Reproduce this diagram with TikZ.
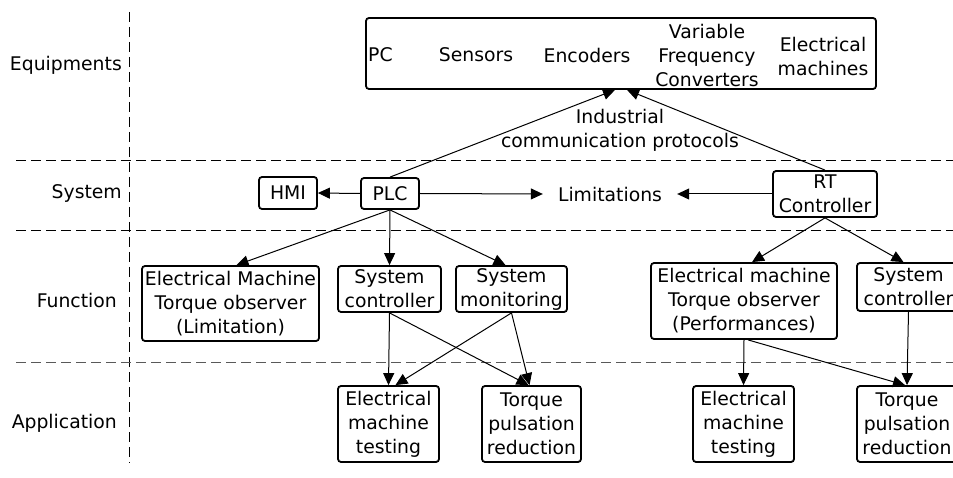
\documentclass[tikz,border=0pt]{standalone}
\usepackage{fontspec}
\setsansfont{DejaVu Sans}
\usetikzlibrary{arrows.meta}

\begin{document}
\begin{tikzpicture}[
  x=1pt, y=-1pt,
  font=\sffamily\fontsize{18.8}{24}\selectfont,
  box/.style={
    draw, line width=1.8pt, rounded corners=3pt,
    inner sep=0pt, align=center
  },
  item/.style={inner sep=0pt, align=center},
  lane/.style={anchor=east, inner sep=0pt},
  sep/.style={dash pattern=on 10pt off 5pt, line width=1pt},
  link/.style={-{Triangle[length=12pt, width=11pt]}, line width=1pt},
]
\useasboundingbox (0,0) rectangle (953,478);
\clip (0,0) rectangle (953,478);

% lanes
\draw[sep] (129,12) -- (129,463);
\draw[sep] (16,161) -- (953,161);
\draw[sep] (16,231) -- (953,231);
\draw[sep, draw=black!65] (16,362) -- (953,362);

\node[lane] (lEquip) at (122,65)  {Equipments};
\node[lane] (lSys)   at (122,193) {System};
\node[lane] (lFunc)  at (117,300) {Function};
\node[lane] (lApp)   at (117,423) {Application};

% equipments
\node[box, minimum width=510pt, minimum height=71pt] (equip) at (621,53.5) {};
\node[item, anchor=west] (pc) at (368,55) {PC};
\node[item] (sensors)  at (476,55) {Sensors};
\node[item] (encoders) at (587,55) {Encoders};
\node[item] (vfc)      at (707,55) {Variable\\Frequency\\Converters};
\node[item] (machines) at (823,56) {Electrical\\machines};
\node[item] (proto)    at (620,130) {Industrial\\communication protocols};

% system
\node[box, minimum width=58pt, minimum height=32pt]  (hmi) at (288,193)   {HMI};
\node[box, minimum width=58pt, minimum height=31pt]  (plc) at (390,193.5) {PLC};
\node[box, minimum width=104pt, minimum height=46pt] (rt)  at (825,194)   {RT\\Controller};
\node[item, inner xsep=15pt] (limit) at (610,194) {Limitations};

% function
\node[box, minimum width=177pt, minimum height=75pt] (emto1) at (230.5,303.5) {Electrical Machine\\Torque observer\\(Limitation)};
\node[box, minimum width=103pt, minimum height=46pt] (sc1)   at (389.5,289)   {System\\controller};
\node[box, minimum width=111pt, minimum height=46pt] (sm)    at (511.5,289)   {System\\monitoring};
\node[box, minimum width=186pt, minimum height=76pt] (emto2) at (744,301)     {Electrical machine\\Torque observer\\(Performances)};
\node[box, minimum width=103pt, minimum height=48pt] (sc2)   at (908.5,287)   {System\\controller};

% application
\node[box, minimum width=101pt, minimum height=76pt] (emt1) at (388.5,424) {Electrical\\machine\\testing};
\node[box, minimum width=99pt,  minimum height=76pt] (tpr1) at (531.5,424) {Torque\\pulsation\\reduction};
\node[box, minimum width=101pt, minimum height=76pt] (emt2) at (743.5,424) {Electrical\\machine\\testing};
\node[box, minimum width=100pt, minimum height=76pt] (tpr2) at (907,424)   {Torque\\pulsation\\reduction};

% connectors
\draw[link] (plc.north) -- ([xshift=-6pt]equip.south);
\draw[link] (rt.north) -- ([xshift=6pt]equip.south);
\draw[link] (plc.west) -- (hmi.east);
\draw[link] (plc.east) -- (limit.west);
\draw[link] (rt.west) -- (limit.east);

\draw[link] (plc.south) -- ([xshift=6pt]emto1.north);
\draw[link] (plc.south) -- (sc1.north);
\draw[link] (plc.south) -- ([xshift=-6pt]sm.north);
\draw[link] (rt.south) -- ([xshift=8pt]emto2.north);
\draw[link] (rt.south) -- ([xshift=-5pt]sc2.north);

\draw[link] (sc1.south) -- (emt1.north);
\draw[link] (sc1.south) -- ([xshift=-3pt]tpr1.north);
\draw[link] (sm.south) -- ([xshift=7pt]emt1.north);
\draw[link] (sm.south) -- ([xshift=-2pt]tpr1.north);
\draw[link] (emto2.south) -- (emt2.north);
\draw[link] ([xshift=4pt]emto2.south) -- ([xshift=-2pt]tpr2.north);
\draw[link] (sc2.south) -- (tpr2.north);

\end{tikzpicture}
\end{document}
